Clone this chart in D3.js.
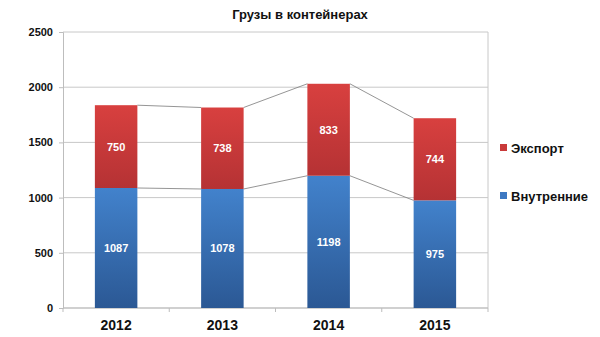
<!DOCTYPE html>
<html>
<head>
<meta charset="utf-8">
<script src="https://cdn.jsdelivr.net/npm/d3@7"></script>
<style>
  body { margin: 0; background: #fff; }
  svg { display: block; font-family: "Liberation Sans", Arial, sans-serif; }
</style>
</head>
<body>
<svg id="chart" width="600" height="337"></svg>
<script>
// Container cargo, thousands of tonnes by year
const years = ["2012", "2013", "2014", "2015"];
const domestic = [1087, 1078, 1198, 975];   // Внутренние
const exportVals = [750, 738, 833, 744];    // Экспорт
const yTicks = [0, 500, 1000, 1500, 2000, 2500];
const seriesNames = ["Внутренние", "Экспорт"];

const svg = d3.select("#chart");
const margin = { left: 63, right: 112, top: 32, bottom: 29 };
const W = 600, H = 337;
const plotW = W - margin.left - margin.right;
const plotH = H - margin.top - margin.bottom;

const x = d3.scaleBand().domain(years).range([margin.left, margin.left + plotW]).paddingInner(0.6).paddingOuter(0.3);
const xOuter = d3.scaleBand().domain(years).range([margin.left, margin.left + plotW]);
const y = d3.scaleLinear().domain([0, 2500]).range([margin.top + plotH, margin.top]);

// gradients
const defs = svg.append("defs");
function grad(id, top, bottom) {
  const g = defs.append("linearGradient").attr("id", id).attr("x1", 0).attr("y1", 0).attr("x2", 0).attr("y2", 1);
  g.append("stop").attr("offset", "0%").attr("stop-color", top);
  g.append("stop").attr("offset", "100%").attr("stop-color", bottom);
}
grad("gBlue", "#4282cc", "#2b5894");
grad("gRed", "#d8403f", "#b53234");

// title
svg.append("text").attr("x", 300).attr("y", 19).attr("text-anchor", "middle")
  .attr("font-size", 13).attr("font-weight", "bold").attr("fill", "#111")
  .text("Грузы в контейнерах");

// gridlines
svg.append("g").selectAll("line").data(yTicks).join("line")
  .attr("x1", margin.left).attr("x2", margin.left + plotW)
  .attr("y1", d => y(d)).attr("y2", d => y(d))
  .attr("stroke", "#c8c8c8").attr("stroke-width", 1);

// plot frame right side
svg.append("line").attr("x1", margin.left + plotW).attr("x2", margin.left + plotW)
  .attr("y1", y(2500)).attr("y2", y(0)).attr("stroke", "#c8c8c8");

// y axis
const yAxis = svg.append("g").attr("transform", `translate(${margin.left},0)`)
  .call(d3.axisLeft(y).tickValues(yTicks).tickFormat(d3.format("d")).tickSize(4).tickPadding(6));
yAxis.select(".domain").attr("stroke", "#bdbdbd");
yAxis.selectAll(".tick line").attr("stroke", "#bdbdbd");
yAxis.selectAll("text").attr("font-size", 11).attr("font-weight", "bold").attr("fill", "#111")
  .attr("font-family", "Liberation Sans, Arial, sans-serif");

// x axis: ticks at category boundaries
const xg = svg.append("g").attr("transform", `translate(0,${y(0)})`);
xg.append("line").attr("x1", margin.left).attr("x2", margin.left + plotW).attr("stroke", "#bdbdbd");
const bounds = years.map(d => xOuter(d)).concat([margin.left + plotW]);
xg.selectAll("line.tk").data(bounds).join("line").attr("class", "tk")
  .attr("x1", d => d).attr("x2", d => d).attr("y1", 0).attr("y2", 4).attr("stroke", "#bdbdbd");
xg.selectAll("text").data(years).join("text")
  .attr("x", d => x(d) + x.bandwidth() / 2).attr("y", 22)
  .attr("text-anchor", "middle").attr("font-size", 14).attr("font-weight", "bold").attr("fill", "#111")
  .text(d => d);

// stacked data
const rows = years.map((yr, i) => ({ year: yr, dom: domestic[i], exp: exportVals[i] }));
const stack = d3.stack().keys(["dom", "exp"])(rows);

// series connector lines
stack.forEach(layer => {
  for (let i = 0; i < years.length - 1; i++) {
    svg.append("line")
      .attr("x1", x(years[i]) + x.bandwidth()).attr("y1", y(layer[i][1]))
      .attr("x2", x(years[i + 1])).attr("y2", y(layer[i + 1][1]))
      .attr("stroke", "#7a7a7a").attr("stroke-width", 0.8);
  }
});

const fills = ["url(#gBlue)", "url(#gRed)"];
stack.forEach((layer, li) => {
  const g = svg.append("g");
  g.selectAll("rect").data(layer).join("rect")
    .attr("x", d => x(d.data.year)).attr("width", x.bandwidth())
    .attr("y", d => y(d[1])).attr("height", d => y(d[0]) - y(d[1]))
    .attr("fill", fills[li]);
  g.selectAll("text").data(layer).join("text")
    .attr("x", d => x(d.data.year) + x.bandwidth() / 2)
    .attr("y", d => (y(d[0]) + y(d[1])) / 2 + 4)
    .attr("text-anchor", "middle").attr("font-size", 11).attr("font-weight", "bold").attr("fill", "#fff")
    .text(d => d[1] - d[0]);
});

// legend
const legend = [
  { name: "Экспорт", color: "#c93a3a", y: 148 },
  { name: "Внутренние", color: "#3d78c2", y: 196 }
];
const lg = svg.append("g");
lg.selectAll("rect").data(legend).join("rect")
  .attr("x", 500).attr("y", d => d.y - 4).attr("width", 7).attr("height", 7).attr("fill", d => d.color);
lg.selectAll("text").data(legend).join("text")
  .attr("x", 511).attr("y", d => d.y + 4.5)
  .attr("font-size", 13).attr("font-weight", "bold").attr("fill", "#111")
  .text(d => d.name);
</script>
</body>
</html>
